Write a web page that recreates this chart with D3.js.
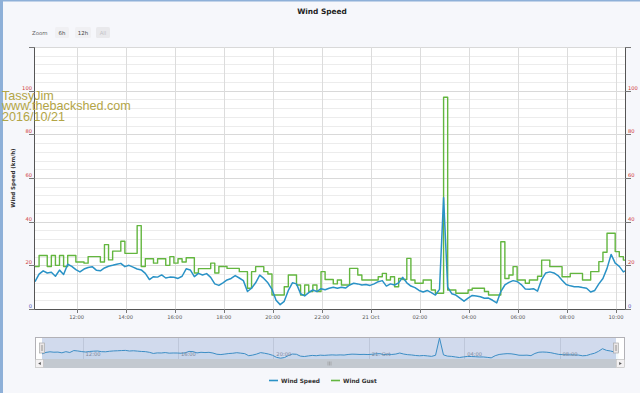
<!DOCTYPE html>
<html><head><meta charset="utf-8">
<script src="https://cdn.jsdelivr.net/npm/d3@7"></script>
<style>
html,body{margin:0;padding:0;background:#f6f7fb;}
svg{display:block;font-family:"DejaVu Sans",Verdana,sans-serif;}
</style></head><body>
<svg id="c" width="640" height="393"></svg>
<script>
// ---- data (10-minute samples starting 2016-10-20 10:18) ----
const startTime = Date.UTC(2016, 9, 20, 10, 18);
const endTime = Date.UTC(2016, 9, 21, 10, 22);
const stepMinutes = 10;
const speed = [12.5,16.0,17.5,16.5,16.8,15.0,17.8,15.8,20.5,19.5,18.0,17.0,18.3,19.0,19.4,17.8,17.5,18.8,19.6,20.0,
20.5,20.9,19.4,20.0,19.2,18.3,17.9,16.3,13.5,14.8,14.6,15.6,14.2,14.6,14.5,14.0,15.0,18.4,17.9,14.8,
16.3,15.6,16.2,14.5,11.5,10.8,12.0,13.3,14.0,15.3,14.2,13.0,8.0,9.5,12.0,15.5,14.0,12.0,9.0,4.0,
2.0,3.5,8.5,12.0,11.5,7.0,6.0,7.5,8.7,8.0,9.3,8.8,9.5,10.0,9.5,10.0,9.6,11.0,11.8,11.5,
11.0,11.2,10.8,11.5,12.5,13.0,10.5,11.5,11.0,12.0,14.5,12.0,10.5,9.8,8.5,7.8,8.5,7.5,6.4,9.0,
51.0,10.0,7.0,6.4,5.0,3.6,5.0,6.2,6.0,5.6,4.9,5.0,4.0,2.8,8.0,11.0,12.2,13.0,12.6,11.2,
9.2,9.0,9.3,8.2,13.5,16.5,17.0,16.5,15.3,13.2,11.2,10.6,10.2,10.2,9.8,9.5,7.8,8.5,11.5,14.0,
18.6,25.0,21.0,19.5,17.0,18.0];
const gust = [19.5,24.5,24.5,19.5,24.5,20.0,24.5,19.5,24.5,24.5,21.5,21.5,21.0,24.0,24.0,24.0,21.5,29.5,22.5,26.5,
26.5,31.0,25.5,25.5,25.5,38.2,19.5,23.0,23.0,21.0,23.0,23.0,20.0,24.0,21.0,23.0,21.5,23.5,23.5,16.5,
18.5,18.5,18.5,21.0,16.5,19.5,19.5,18.6,18.6,18.6,17.1,17.1,9.5,17.1,19.4,19.4,17.1,16.0,6.4,6.4,
6.4,10.2,15.6,15.6,11.0,6.4,11.0,8.0,11.0,8.0,17.1,13.5,13.5,11.5,13.3,11.0,11.0,18.6,18.6,15.6,
13.3,13.3,13.3,13.3,14.8,16.3,13.3,14.8,10.2,14.0,13.5,23.2,13.3,11.8,11.8,13.3,13.3,8.7,7.2,7.2,
97.0,8.7,8.7,7.2,7.2,7.2,8.7,9.5,9.5,9.5,8.0,6.4,6.4,6.4,30.8,14.0,15.6,19.4,13.3,13.3,
11.8,13.3,13.3,15.0,22.4,22.4,19.4,19.4,19.4,14.8,14.8,16.3,16.3,16.3,13.3,13.3,17.1,17.1,21.7,26.0,
34.7,34.7,26.3,24.0,22.4,22.4];
const yTicks = [0,20,40,60,80,100,120];
const seriesNames = ["Wind Speed","Wind Gust"];
const seriesColors = ["#2a92c6","#63b63f"];
const zoomButtons = ["6h","12h","All"];
const watermark = ["TassyJim","www.thebackshed.com","2016/10/21"];

const times = speed.map((_, i) => new Date(startTime + i * stepMinutes * 60000));
const rows = times.map((t, i) => ({t, s: speed[i], g: gust[i]}));

// ---- layout ----
const svg = d3.select("#c");
const L = 35, R = 625, T = 47, B = 309;
const x = d3.scaleTime().domain([new Date(startTime), new Date(endTime)]).range([L, R]);
const y = d3.scaleLinear().domain([0, 120]).range([B, T]);

// frame edges
svg.append("rect").attr("x",0).attr("y",0).attr("width",640).attr("height",393).attr("fill","#f6f7fb");
svg.append("line").attr("x1",0).attr("x2",640).attr("y1",0.75).attr("y2",0.75).attr("stroke","#8eb0d8").attr("stroke-width",1.5);
svg.append("line").attr("x1",1.5).attr("x2",1.5).attr("y1",0).attr("y2",393).attr("stroke","#8eb0d8").attr("stroke-width",3);

// plot background
svg.append("rect").attr("x",L).attr("y",T).attr("width",R-L).attr("height",B-T).attr("fill","#ffffff");

// minor grid (every 4)
const minor = d3.range(0, 121, 4).filter(v => v % 20 !== 0);
svg.append("g").selectAll("line").data(minor).join("line")
  .attr("x1",L).attr("x2",R).attr("y1",d=>Math.round(y(d))+0.5).attr("y2",d=>Math.round(y(d))+0.5)
  .attr("stroke","#ececec").attr("stroke-width",1);
// major grid
svg.append("g").selectAll("line").data(yTicks.slice(1)).join("line")
  .attr("x1",L).attr("x2",R).attr("y1",d=>Math.round(y(d))+0.5).attr("y2",d=>Math.round(y(d))+0.5)
  .attr("stroke","#d9d9d9").attr("stroke-width",1);

// vertical grid
const xTicks = x.ticks(d3.utcHour.every(2));
svg.append("g").selectAll("line").data(xTicks).join("line")
  .attr("x1",d=>Math.round(x(d))+0.5).attr("x2",d=>Math.round(x(d))+0.5).attr("y1",T).attr("y2",B)
  .attr("stroke","#dcdcdc").attr("stroke-width",1);

// clip
svg.append("clipPath").attr("id","clip").append("rect").attr("x",L).attr("y",T-5).attr("width",R-L).attr("height",B-T+5);

const gPlot = svg.append("g").attr("clip-path","url(#clip)");
const gustLine = d3.line().x(d=>x(d.t)).y(d=>y(d.g)).curve(d3.curveStepAfter);
const speedLine = d3.line().x(d=>x(d.t)).y(d=>y(d.s));
gPlot.append("path").datum(rows).attr("d",gustLine).attr("fill","none")
  .attr("stroke",seriesColors[1]).attr("stroke-width",1.4).attr("stroke-linejoin","round");
gPlot.append("path").datum(rows).attr("d",speedLine).attr("fill","none")
  .attr("stroke",seriesColors[0]).attr("stroke-width",1.5).attr("stroke-linejoin","round");

// axes lines
svg.append("line").attr("x1",L-0.5).attr("x2",L-0.5).attr("y1",T).attr("y2",B).attr("stroke","#555");
svg.append("line").attr("x1",R+0.5).attr("x2",R+0.5).attr("y1",T).attr("y2",B).attr("stroke","#555");
svg.append("line").attr("x1",L).attr("x2",R).attr("y1",B+0.5).attr("y2",B+0.5).attr("stroke","#555");

// y ticks & labels (left and right)
const yLab = (d)=> d===0 ? "#5050b8" : "#d03a3a";
svg.append("g").selectAll("line").data(yTicks).join("line")
  .attr("x1",L-6).attr("x2",L).attr("y1",d=>Math.round(y(d))+0.5).attr("y2",d=>Math.round(y(d))+0.5).attr("stroke","#777");
svg.append("g").selectAll("line").data(yTicks).join("line")
  .attr("x1",R).attr("x2",R+6).attr("y1",d=>Math.round(y(d))+0.5).attr("y2",d=>Math.round(y(d))+0.5).attr("stroke","#777");
svg.append("g").selectAll("text").data(yTicks.filter(d=>d<120)).join("text")
  .attr("x",L-3).attr("y",d=>y(d)-1).attr("text-anchor","end").attr("font-size",5.2)
  .attr("fill",yLab).text(d=>d);
svg.append("g").selectAll("text").data(yTicks.filter(d=>d<120)).join("text")
  .attr("x",R+3).attr("y",d=>y(d)-1).attr("text-anchor","start").attr("font-size",5.2)
  .attr("fill",yLab).text(d=>d);

// y title
svg.append("text").attr("transform",`translate(14.5,${(T+B)/2}) rotate(-90)`)
  .attr("text-anchor","middle").attr("font-size",5.5).attr("font-weight","bold").attr("fill","#333")
  .text("Wind Speed (km/h)");

// x labels
const fmtMain = d => (d.getUTCHours()===0 ? d3.utcFormat("%-d %b")(d) : d3.utcFormat("%H:%M")(d));
svg.append("g").selectAll("line").data(xTicks).join("line")
  .attr("x1",d=>Math.round(x(d))+0.5).attr("x2",d=>Math.round(x(d))+0.5).attr("y1",B).attr("y2",B+4).attr("stroke","#777");
svg.append("g").selectAll("text").data(xTicks).join("text")
  .attr("x",d=>x(d)).attr("y",B+10).attr("text-anchor","middle").attr("font-size",5.2).attr("fill","#555")
  .text(fmtMain);

// title
svg.append("text").attr("x",322).attr("y",14).attr("text-anchor","middle").attr("font-size",7.4)
  .attr("font-weight","bold").attr("fill","#222").text("Wind Speed");

// zoom buttons
svg.append("text").attr("x",32).attr("y",35).attr("font-size",5.4).attr("fill","#666").text("Zoom");
const btnX = [55,75,96];
zoomButtons.forEach((b,i)=>{
  svg.append("rect").attr("x",btnX[i]).attr("y",27).attr("width",i===1?16:14).attr("height",11).attr("rx",1.5)
    .attr("fill", i===2 ? "#e9e9ec" : "#f0f0f3");
  svg.append("text").attr("x",btnX[i]+(i===1?8:7)).attr("y",35).attr("text-anchor","middle").attr("font-size",5.4)
    .attr("fill", i===2 ? "#c4c4c8" : "#444").text(b);
});

// ---- navigator ----
const NT = 337, NB = 359, NL = 35, NR = 624, HL = 42, HR = 616;
const nx = d3.scaleTime().domain([new Date(startTime), new Date(endTime)]).range([HL, HR]);
const ny = d3.scaleLinear().domain([0, d3.max(speed)]).range([NB, NT+1]);
svg.append("rect").attr("x",NL).attr("y",NT).attr("width",NR-NL).attr("height",NB-NT).attr("fill","#ffffff");
const navTicks = nx.ticks(d3.utcHour.every(4));
svg.append("g").selectAll("line").data(navTicks).join("line")
  .attr("x1",d=>Math.round(nx(d))+0.5).attr("x2",d=>Math.round(nx(d))+0.5).attr("y1",NT).attr("y2",NB)
  .attr("stroke","#e4e4e4");
const navArea = d3.area().x(d=>nx(d.t)).y0(NB).y1(d=>ny(d.s));
const navLine = d3.line().x(d=>nx(d.t)).y(d=>ny(d.s));
svg.append("path").datum(rows).attr("d",navArea).attr("fill",seriesColors[0]).attr("fill-opacity",0.06);
svg.append("path").datum(rows).attr("d",navLine).attr("fill","none").attr("stroke",seriesColors[0]).attr("stroke-width",1);
const fmtNav = d => (d.getUTCHours()===0 ? d3.utcFormat("%-d. %b")(d) : d3.utcFormat("%H:%M")(d));
svg.append("g").selectAll("text").data(navTicks).join("text")
  .attr("x",d=>nx(d)+3).attr("y",356).attr("font-size",5.2).attr("fill","#8a8a8a").text(fmtNav);
// mask
svg.append("rect").attr("x",HL).attr("y",NT).attr("width",HR-HL).attr("height",NB-NT).attr("fill","rgba(102,133,194,0.3)");
svg.append("rect").attr("x",NL+0.5).attr("y",NT+0.5).attr("width",NR-NL).attr("height",NB-NT).attr("fill","none").attr("stroke","#b2b1b6");
// handles
[HL, HR].forEach(hx=>{
  svg.append("rect").attr("x",hx-2.5).attr("y",343).attr("width",5).attr("height",10).attr("fill","#ebe7e8").attr("stroke","#aaa").attr("stroke-width",0.7);
  svg.append("line").attr("x1",hx-0.6).attr("x2",hx-0.6).attr("y1",345).attr("y2",351).attr("stroke","#888").attr("stroke-width",0.5);
  svg.append("line").attr("x1",hx+0.6).attr("x2",hx+0.6).attr("y1",345).attr("y2",351).attr("stroke","#888").attr("stroke-width",0.5);
});
// scrollbar
svg.append("rect").attr("x",NL).attr("y",NB).attr("width",NR-NL).attr("height",9).attr("fill","#eeeeee");
svg.append("rect").attr("x",NL+8).attr("y",NB).attr("width",NR-NL-16).attr("height",9).attr("fill","#c3c9d0");
[NL, NR-8].forEach((bx,i)=>{
  svg.append("rect").attr("x",bx+0.5).attr("y",NB+0.5).attr("width",8).attr("height",8).attr("fill","#f3f1f2").attr("stroke","#bbb").attr("stroke-width",0.6);
  const cx = bx+4.5, cy = NB+4.5;
  svg.append("path").attr("d", i===0 ? `M${cx+1.3},${cy-1.6}L${cx-1.3},${cy}L${cx+1.3},${cy+1.6}Z` : `M${cx-1.3},${cy-1.6}L${cx+1.3},${cy}L${cx-1.3},${cy+1.6}Z`).attr("fill","#555");
});
[-1.5,0,1.5].forEach(o=>{
  svg.append("line").attr("x1",329.5+o).attr("x2",329.5+o).attr("y1",NB+2.5).attr("y2",NB+6.5).attr("stroke","#888").attr("stroke-width",0.5);
});

// legend
const legX = [269, 331];
seriesNames.forEach((n,i)=>{
  svg.append("line").attr("x1",legX[i]).attr("x2",legX[i]+9).attr("y1",380.5).attr("y2",380.5)
    .attr("stroke",seriesColors[i]).attr("stroke-width",1.6);
  svg.append("text").attr("x",legX[i]+12).attr("y",382.5).attr("font-size",5.8).attr("font-weight","bold")
    .attr("fill","#333").text(n);
});

// watermark
const wm = svg.append("text").attr("font-family","'Liberation Sans',Arial,sans-serif").attr("font-size",12.6).attr("fill","#b3a546");
watermark.forEach((w,i)=>{
  wm.append("tspan").attr("x",2).attr("y",99.5 + i*10.8).text(w);
});
</script>
</body></html>
